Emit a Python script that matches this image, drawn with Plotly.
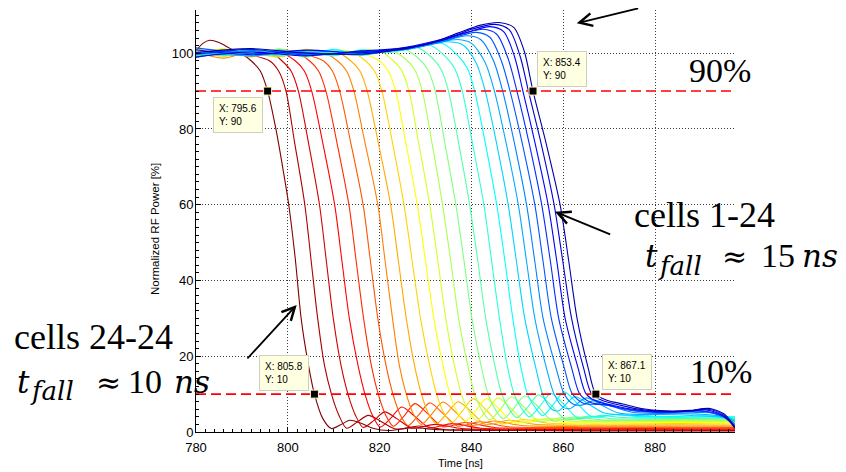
import plotly.graph_objects as go

# ------------------------------------------------------------------ data
x_range = [780, 897.4]
y_range = [0, 111.4]
x_ticks = [780, 800, 820, 840, 860, 880]
y_ticks = [0, 20, 40, 60, 80, 100]
threshold_levels = [90, 10]          # 90 % and 10 % levels
tip_x = [795.6, 853.4, 805.8, 867.1]  # data-tip readings
tip_y = [90, 90, 10, 10]

# one list per curve, leftmost (cells 24-24, dark red) to rightmost (cells 1-24, dark blue)
cell_time = [
    [780, 781.5, 783, 785, 787.5, 790, 792, 794, 795.6, 797.4, 799, 800.2, 801.6, 802.9, 804.3, 805.8, 807.6, 809.5, 811.5, 813.5, 815.8, 818.5, 822, 827, 833, 840, 850, 865, 880, 897.4],
    [780, 786, 792, 796, 798, 799.6, 801.4, 803.7, 805.1, 806.5, 808, 809.5, 811.1, 812.8, 815.1, 817.5, 820.3, 823.5, 828.5, 834.5, 845, 860, 880, 897.4],
    [780, 786, 792, 797, 798.7, 800.7, 802.3, 804.4, 806.9, 808.4, 809.9, 811.6, 813.1, 814.7, 816.4, 818.7, 821.1, 823.9, 827.1, 832.1, 838, 850, 870, 897.4],
    [780, 786, 792, 798, 801.6, 803.6, 805.2, 807.5, 810.2, 811.8, 813.4, 815.3, 816.8, 818.4, 820.1, 822.4, 824.8, 827.6, 830.8, 835.8, 842, 855, 875, 897.4],
    [780, 786, 792, 798, 802, 804.7, 806.7, 808.3, 810.6, 813.3, 814.9, 816.5, 818.2, 819.7, 821.3, 823, 825.3, 827.7, 830.5, 833.7, 838.7, 845, 860, 880, 897.4],
    [780, 786, 792, 798, 804, 807.7, 809.7, 811.3, 813.6, 816.4, 818, 819.6, 821.4, 822.9, 824.5, 826.2, 828.5, 830.9, 833.7, 836.9, 841.9, 848, 862, 882, 897.4],
    [780, 786, 792, 798, 804, 808, 810.8, 812.8, 814.4, 816.7, 819.6, 821.2, 822.8, 824.3, 825.8, 827.4, 829.1, 831.4, 833.8, 836.6, 839.8, 844.8, 851, 865, 885, 897.4],
    [780, 786, 792, 798, 804, 810, 813.7, 815.7, 817.3, 819.6, 822.4, 824.1, 825.8, 827.6, 829.1, 830.7, 832.4, 834.7, 837.1, 839.9, 843.1, 848.1, 854, 868, 885, 897.4],
    [780, 786, 792, 798, 804, 810, 814, 816.9, 818.9, 820.5, 822.7, 825.3, 827.1, 828.9, 830.9, 832.4, 834, 835.7, 838, 840.4, 843.2, 846.4, 851.4, 857, 870, 885, 897.4],
    [780, 786, 792, 798, 804, 810, 816, 819.9, 821.9, 823.5, 825.6, 828.2, 830, 831.8, 833.8, 835.3, 836.9, 838.6, 840.9, 843.3, 846.1, 849.3, 854.3, 860, 872, 886, 897.4],
    [780, 786, 792, 798, 804, 810, 816, 820, 822.8, 824.8, 826.4, 828.4, 830.9, 832.7, 834.4, 836.3, 837.8, 839.4, 841.1, 843.4, 845.8, 848.6, 851.8, 856.8, 862, 874, 888, 897.4],
    [780, 786, 792, 798, 804, 810, 816, 822, 825.7, 827.7, 829.3, 831.3, 833.7, 835.5, 837.2, 839.2, 840.7, 842.3, 844, 846.3, 848.7, 851.5, 854.7, 859.7, 865, 876, 889, 897.4],
    [780, 786, 792, 798, 804, 810, 816, 821, 825, 828.5, 830.5, 832.1, 834.1, 836.6, 838.4, 840.1, 842.1, 843.6, 845.2, 846.9, 849.2, 851.6, 854.4, 857.6, 862.6, 868, 878, 890, 897.4],
    [780, 786, 792, 798, 804, 810, 816, 822, 828, 831.4, 833.4, 835, 837.1, 839.6, 841.4, 843.1, 845.1, 846.6, 848.2, 849.9, 852.2, 854.6, 857.4, 860.6, 865.6, 871, 880, 890, 897.4],
    [780, 786, 792, 798, 804, 810, 816, 822, 827, 831, 834.4, 836.4, 838, 840.1, 842.7, 844.4, 846.1, 847.8, 849.3, 850.9, 852.6, 854.9, 857.3, 860.1, 863.3, 868.3, 873, 882, 891, 897.4],
    [780, 786, 792, 798, 804, 810, 816, 822, 828, 833.5, 837.1, 839.1, 840.7, 842.9, 845.5, 847.3, 849, 850.7, 852.2, 853.8, 855.5, 857.8, 860.2, 863, 866.2, 871.2, 876, 884, 892, 897.4],
    [780, 792, 804, 816, 826, 834, 838, 841, 843, 845.5, 848, 849.8, 851.6, 854, 855.5, 857.5, 859, 862.5, 866, 869, 875, 882, 889, 894, 897.4],
    [780, 792, 804, 816, 826, 832, 837, 840, 843, 845, 847.6, 850.2, 852, 853.8, 856.3, 858, 860, 861.5, 865, 868.5, 872, 878, 885, 891, 895, 897.4],
    [780, 792, 804, 816, 826, 833, 839, 842, 844.8, 846.8, 849.4, 852, 853.8, 855.6, 858.4, 860.2, 862.2, 864, 867, 870.5, 875, 881, 888, 892.5, 895.3, 897.4],
    [780, 792, 804, 816, 826, 834, 841, 844, 846.5, 848.4, 851.1, 853.8, 855.6, 857.4, 860.2, 862, 864.5, 867, 870, 874, 879, 885, 890.5, 894.8, 897.4],
    [780, 792, 804, 816, 826, 834, 842.5, 845.5, 848, 849.9, 852.6, 855.3, 857.2, 859, 861.8, 863.6, 866, 869, 873, 878, 884, 890, 894.5, 897.4],
    [780, 792, 804, 816, 826, 834, 839, 844, 847, 849.4, 851.2, 853.9, 856.7, 858.6, 860.4, 863.2, 865, 867.5, 871, 875, 880, 886, 891, 894.8, 897.4],
    [780, 792, 804, 816, 826, 834, 840, 845, 848.2, 850.6, 852.4, 855.2, 858, 859.9, 861.8, 864.4, 866.2, 868.8, 872, 876, 881, 887, 891.5, 895, 897.4],
    [780, 792, 804, 816, 826, 832, 837, 842, 846, 849.2, 851.5, 853.4, 856.3, 859.3, 861.2, 863, 865.4, 867.1, 869.5, 873, 877, 882, 887.5, 892, 895.3, 897.4],
]
cell_power = [
    [100.6, 102.6, 103.4, 102.8, 101.2, 99.8, 98.0, 95.3, 90, 80, 69, 60, 46, 30, 19, 10, 3.6, 0.9, 1.9, 3.1, 2.4, 1.0, 0.4, 1.1, 0.6, 0.5, 0.4, 0.3, 0.3, 0.3],
    [99.2, 100.6, 99.5, 98.0, 95.3, 90, 77, 60, 45, 30, 17.5, 10, 4.5, 1.0, 2.6, 4.4, 2.8, 0.8, 1.6, 0.6, 0.5, 0.4, 0.5, 0.4],
    [100.7, 99.3, 100.4, 99.6, 98.0, 95.3, 90, 77, 60, 45, 30, 17.5, 10, 4.5, 1.2, 3.0, 5.3, 3.4, 1.0, 2.0, 0.9, 0.7, 0.6, 0.6],
    [99.0, 101.0, 99.8, 100.3, 98.0, 95.3, 90, 77, 60, 45, 30, 17.5, 10, 4.5, 1.3, 3.6, 6.6, 4.2, 1.2, 2.2, 1.0, 0.8, 0.9, 0.8],
    [100.9, 99.4, 100.9, 99.1, 99.9, 98.0, 95.3, 90, 77, 60, 45, 30, 17.5, 10, 4.5, 1.5, 4.2, 7.5, 4.8, 1.4, 2.5, 1.2, 1.0, 1.1, 1.0],
    [98.8, 100.8, 99.2, 101.0, 99.6, 98.0, 95.3, 90, 77, 60, 45, 30, 17.5, 10, 4.5, 1.7, 4.5, 7.7, 5.0, 1.6, 2.7, 1.4, 1.2, 1.3, 1.2],
    [100.4, 98.7, 100.5, 99.4, 100.9, 100.0, 98.0, 95.3, 90, 77, 60, 45, 30, 17.5, 10, 4.6, 2.0, 4.8, 7.9, 5.2, 1.8, 2.9, 1.7, 1.5, 1.6, 1.5],
    [99.6, 100.9, 99.0, 100.7, 99.3, 100.6, 98.0, 95.3, 90, 77, 60, 45, 30, 17.5, 10, 4.7, 2.2, 5.0, 8.0, 5.4, 2.0, 3.1, 2.0, 1.8, 1.9, 1.8],
    [101.2, 99.8, 100.2, 99.0, 101.0, 99.5, 100.2, 98.0, 95.3, 90, 77, 60, 45, 30, 17.5, 10, 5.0, 2.5, 5.5, 8.8, 5.8, 2.2, 3.3, 2.3, 2.1, 2.2, 2.1],
    [99.3, 101.2, 99.6, 100.5, 99.2, 100.9, 100.0, 98.0, 95.3, 90, 77, 60, 45, 30, 17.5, 10, 5.2, 2.8, 5.6, 8.8, 6.0, 2.4, 3.4, 2.5, 2.4, 2.5, 2.4],
    [100.6, 99.1, 101.0, 99.7, 100.4, 99.4, 100.8, 100.6, 98.2, 95.4, 90, 77, 60, 45, 30, 17.5, 10, 5.5, 3.0, 5.8, 9.0, 6.2, 2.6, 3.6, 2.8, 2.7, 2.8, 2.7],
    [99.5, 100.7, 99.4, 101.1, 99.8, 100.2, 99.4, 101.0, 98.4, 95.5, 90, 77, 60, 45, 30, 17.5, 10, 5.7, 3.2, 6.0, 9.3, 6.5, 2.8, 3.8, 3.0, 3.0, 3.1, 3.0],
    [100.9, 99.3, 100.4, 99.2, 100.7, 99.6, 100.3, 100.8, 101.3, 98.6, 95.6, 90, 77, 60, 45, 30, 17.5, 10, 5.9, 3.5, 6.2, 9.5, 6.8, 3.0, 4.0, 3.2, 3.2, 3.3, 3.2],
    [99.1, 100.9, 99.8, 100.6, 99.0, 100.8, 99.7, 100.6, 101.6, 98.8, 95.7, 90, 77, 60, 45, 30, 17.5, 10, 6.1, 3.8, 6.5, 9.8, 7.0, 3.3, 4.2, 3.5, 3.5, 3.6, 3.5],
    [100.3, 99.5, 101.1, 99.4, 100.3, 99.3, 100.9, 100.2, 101.2, 102.1, 99.0, 95.8, 90, 77, 60, 45, 30, 17.5, 10, 6.3, 4.0, 6.8, 10.2, 7.3, 3.6, 4.4, 3.8, 3.8, 3.9, 3.8],
    [99.8, 100.5, 99.3, 100.9, 99.6, 101.0, 99.5, 100.7, 101.5, 102.6, 99.3, 96.0, 90, 77, 60, 45, 30, 17.5, 10, 6.6, 4.3, 7.2, 10.6, 7.6, 4.0, 4.6, 4.1, 4.1, 4.2, 4.0],
    [99.5, 100.4, 99.6, 100.5, 101.2, 103.0, 102.3, 97.5, 90, 76, 60, 45, 30, 17, 10, 6.0, 5.6, 9.3, 7.0, 5.0, 4.4, 4.6, 4.3, 4.0, 3.3],
    [100.3, 99.3, 100.6, 100.0, 101.4, 102.6, 103.6, 102.6, 97.5, 90, 76, 60, 45, 30, 17, 10, 6.5, 6.2, 9.0, 7.0, 5.0, 4.6, 4.8, 4.6, 4.0, 2.8],
    [98.9, 100.7, 99.8, 100.2, 101.0, 102.8, 104.6, 103.6, 98.0, 90, 76, 60, 45, 30, 17, 10, 7.3, 7.1, 8.4, 6.8, 5.2, 4.9, 5.1, 5.0, 3.8, 2.2],
    [101.4, 99.9, 100.2, 99.6, 101.4, 103.4, 105.5, 104.2, 98.0, 90, 76, 60, 45, 30, 17, 10, 7.5, 7.3, 7.0, 5.8, 5.2, 5.3, 5.4, 4.0, 1.8],
    [99.7, 101.0, 99.5, 100.4, 101.2, 103.6, 106.3, 105.0, 98.5, 90, 76, 60, 45, 30, 17, 10, 7.8, 7.2, 6.2, 5.4, 5.2, 5.6, 4.4, 1.5],
    [100.9, 99.6, 100.8, 100.1, 101.6, 103.8, 105.5, 107.0, 105.7, 99.0, 90, 76, 60, 45, 30, 17, 10, 8.0, 7.0, 6.0, 5.4, 5.4, 5.8, 4.3, 1.2],
    [99.0, 100.3, 99.3, 100.6, 101.4, 103.5, 106.3, 107.6, 106.2, 99.2, 90, 76, 60, 45, 30, 17, 10, 8.2, 7.2, 6.1, 5.5, 5.5, 6.0, 4.4, 1.0],
    [100.2, 101.2, 100.0, 99.8, 101.3, 103.0, 105.3, 107.4, 108.1, 106.8, 100.5, 90, 76, 60, 45, 30, 17, 10, 8.4, 7.4, 6.2, 5.6, 5.7, 6.2, 4.5, 1.0],
]

# ------------------------------------------------------------------ style
cell_colors = [
    "#800000", "#aa0000", "#d40000", "#ff0000", "#ff2b00", "#ff5500",
    "#ff8000", "#ffaa00", "#ffd400", "#ffff00", "#d4ff2b", "#aaff55",
    "#80ff80", "#55ffaa", "#2bffd4", "#00ffff", "#00d4ff", "#00aaff",
    "#0080ff", "#0055ff", "#002bff", "#0000ff", "#0000d4", "#0000aa",
]

PAGE_OFF = 8          # default body margin of the html page
W, H = 846 - PAGE_OFF, 472 - PAGE_OFF
ML, MR, MT, MB = 188, 111, 2, 40
PW = W - ML - MR
PH = H - MT - MB


def paper_x(px):
    """page pixel x -> paper coordinate"""
    return (px - PAGE_OFF - ML) / PW


def paper_y(py):
    """page pixel y -> paper coordinate"""
    return (H - MB - (py - PAGE_OFF)) / PH


fig = go.Figure()

for t, p, c in zip(cell_time, cell_power, cell_colors):
    fig.add_trace(go.Scatter(
        x=t, y=p, mode="lines",
        line=dict(color=c, width=1.1, shape="spline", smoothing=0.8),
        hoverinfo="skip", showlegend=False))

for lvl in threshold_levels:
    fig.add_trace(go.Scatter(
        x=x_range, y=[lvl, lvl], mode="lines",
        line=dict(color="#ff0000", width=1.6, dash="10px,5px"),
        hoverinfo="skip", showlegend=False))

fig.add_trace(go.Scatter(
    x=tip_x, y=tip_y, mode="markers",
    marker=dict(symbol="square", size=8, color="black",
                line=dict(color="#fff6c0", width=1)),
    hoverinfo="skip", showlegend=False))

annotations = []

# data-tip boxes
tip_place = [("right", "top", -5, -6), ("left", "bottom", 4, 4),
             ("right", "bottom", -5, 3), ("left", "bottom", 6, 4)]
for x, y, (xa, ya, xs, ys) in zip(tip_x, tip_y, tip_place):
    annotations.append(dict(
        x=x, y=y, xref="x", yref="y", showarrow=False,
        text=f"X: {x:.1f}<br>Y: {y:g}", align="left",
        xanchor=xa, yanchor=ya, xshift=xs, yshift=ys,
        bgcolor="#ffffe1", bordercolor="#cfcfbf", borderwidth=1, borderpad=5,
        font=dict(family="Liberation Sans", size=10, color="black")))

# arrows (head page-pixel position, tail offset in px)
arrows = [(555, 211.7, 56.7, 23.3), (296.7, 305, -50.7, 55), (576.7, 23.3, 63, -26)]
for hx, hy, ax, ay in arrows:
    annotations.append(dict(
        x=paper_x(hx), y=paper_y(hy), xref="paper", yref="paper",
        ax=ax, ay=ay, text="", showarrow=True, arrowhead=5,
        arrowsize=1.4, arrowwidth=1.8, arrowcolor="black"))

# large serif labels: (text, left page px, centre page px, family, size)
labels = [
    ("90%", 686.7, 70.2, "Liberation Serif", 34),
    ("10%", 688.3, 371.8, "Liberation Serif", 34),
    ("cells 1-24", 631.7, 214.5, "Liberation Serif", 36),
    ("cells 24-24", 11.7, 337.1, "Liberation Serif", 36),
    ("<i>t</i>", 643, 256, "DejaVu Serif", 31),
    ("<i>fall</i>", 656, 266, "DejaVu Serif", 26),
    ("≈", 720, 256, "DejaVu Serif", 30),
    ("15", 759, 255.8, "Liberation Serif", 34),
    ("<i>ns</i>", 800, 256, "DejaVu Serif", 31),
    ("<i>t</i>", 15, 382, "DejaVu Serif", 31),
    ("<i>fall</i>", 28, 391, "DejaVu Serif", 26),
    ("≈", 94, 382, "DejaVu Serif", 30),
    ("10", 126, 381.8, "Liberation Serif", 34),
    ("<i>ns</i>", 172, 382, "DejaVu Serif", 31),
]
for txt, lx, cy, fam, sz in labels:
    annotations.append(dict(
        x=paper_x(lx), y=paper_y(cy), xref="paper", yref="paper",
        text=txt, showarrow=False, xanchor="left", yanchor="middle",
        font=dict(family=fam, size=sz, color="black")))

# axis titles
annotations.append(dict(
    x=paper_x(460), y=paper_y(463), xref="paper", yref="paper",
    text="Time [ns]", showarrow=False, xanchor="center", yanchor="middle",
    font=dict(family="Liberation Sans", size=11, color="black")))
annotations.append(dict(
    x=paper_x(155), y=paper_y(229), xref="paper", yref="paper",
    text="Normalized RF Power [%]", showarrow=False, textangle=-90,
    xanchor="center", yanchor="middle",
    font=dict(family="Liberation Sans", size=11.5, color="black")))

axis_common = dict(
    showline=True, linecolor="black", linewidth=1, mirror=False,
    ticks="inside", ticklen=5, tickwidth=1, tickcolor="black",
    showgrid=True, gridcolor="#3a3a3a", gridwidth=1, griddash="1px,2px",
    zeroline=False,
    tickfont=dict(family="Liberation Sans", size=13, color="black"),
)

fig.update_layout(
    width=W, height=H,
    margin=dict(l=ML, r=MR, t=MT, b=MB, autoexpand=False),
    paper_bgcolor="white", plot_bgcolor="white",
    template="none", showlegend=False,
    xaxis=dict(range=x_range, tickvals=x_ticks, automargin=False,
               ticklabelstandoff=3,
               minor=dict(ticks="inside", ticklen=3, tickcolor="black",
                          dtick=2, tick0=780, showgrid=False),
               **axis_common),
    yaxis=dict(range=y_range, tickvals=y_ticks, automargin=False,
               ticklabelstandoff=-1,
               minor=dict(ticks="inside", ticklen=3, tickcolor="black",
                          dtick=2, tick0=0, showgrid=False),
               **axis_common),
    annotations=annotations,
)

fig.write_html("out.html")
